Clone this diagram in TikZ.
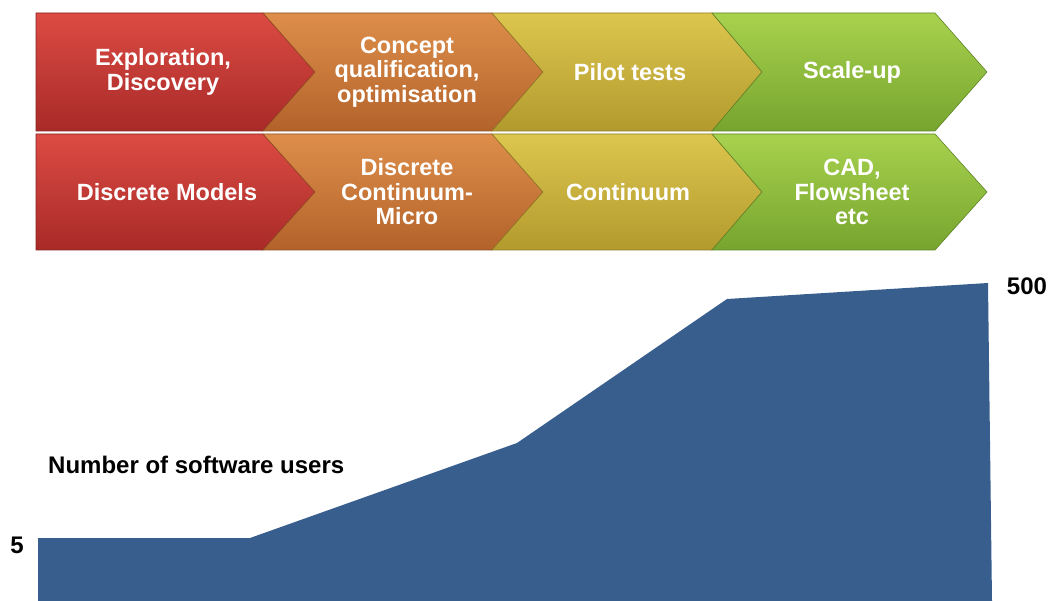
\documentclass[tikz,border=0pt]{standalone}
\usepackage{fontspec}
\setmainfont{Liberation Sans}
\begin{document}
\begin{tikzpicture}[x=1pt,y=-1pt,
  lab/.style={text=white, font=\bfseries\fontsize{23.5}{24.5}\selectfont, align=center, inner sep=0pt},
  axlab/.style={text=black, font=\bfseries\fontsize{24}{26}\selectfont, inner sep=0pt}]
\definecolor{rtop}{HTML}{DC4B43}\definecolor{rbot}{HTML}{A82A28}
\definecolor{otop}{HTML}{DE8E4A}\definecolor{obot}{HTML}{B3632A}
\definecolor{ytop}{HTML}{DCC64E}\definecolor{ybot}{HTML}{B39A2E}
\definecolor{gtop}{HTML}{A8D24E}\definecolor{gbot}{HTML}{76A42E}
\definecolor{areablue}{HTML}{385E8E}
\useasboundingbox (0,0) rectangle (1050,601);
% chevrons, two rows
\foreach \t/\m/\b in {13/72/131, 134/192/250}{
  \shade[top color=rtop, bottom color=rbot] (36,\t) -- (263,\t) -- (315,\m) -- (263,\b) -- (36,\b) -- cycle;
  \draw[rbot!80!black, line width=0.6pt] (36,\t) -- (263,\t) -- (315,\m) -- (263,\b) -- (36,\b) -- cycle;
  \shade[top color=otop, bottom color=obot] (263,\t) -- (492,\t) -- (543,\m) -- (492,\b) -- (263,\b) -- (315,\m) -- cycle;
  \draw[obot!80!black, line width=0.6pt] (263,\t) -- (492,\t) -- (543,\m) -- (492,\b) -- (263,\b) -- (315,\m) -- cycle;
  \shade[top color=ytop, bottom color=ybot] (492,\t) -- (712,\t) -- (762,\m) -- (712,\b) -- (492,\b) -- (543,\m) -- cycle;
  \draw[ybot!80!black, line width=0.6pt] (492,\t) -- (712,\t) -- (762,\m) -- (712,\b) -- (492,\b) -- (543,\m) -- cycle;
  \shade[top color=gtop, bottom color=gbot] (712,\t) -- (935,\t) -- (987,\m) -- (935,\b) -- (712,\b) -- (762,\m) -- cycle;
  \draw[gbot!80!black, line width=0.6pt] (712,\t) -- (935,\t) -- (987,\m) -- (935,\b) -- (712,\b) -- (762,\m) -- cycle;
}
% labels top row
\node[lab] (t1) at (163,72) {Exploration,\\Discovery};
\node[lab] (t2) at (407,72) {Concept\\qualification,\\optimisation};
\node[lab] (t3) at (630,72) {Pilot tests};
\node[lab] (t4) at (852,72) {Scale-up};
% labels bottom row
\node[lab] (b1) at (167,192) {Discrete Models};
\node[lab] (b2) at (407,192) {Discrete\\Continuum-\\Micro};
\node[lab] (b3) at (628,192) {Continuum};
\node[lab] (b4) at (852,192) {CAD,\\Flowsheet\\etc};
% area
\fill[areablue] (38,601) -- (38,538) -- (250,538) -- (517,443) -- (727,299) -- (988,283) -- (992,601) -- cycle;
\node[axlab] (max) at (1027,286) {500};
\node[axlab] (min) at (17,545) {5};
\node[axlab, anchor=west] (ylab) at (48,465) {Number of software users};
\end{tikzpicture}
\end{document}
